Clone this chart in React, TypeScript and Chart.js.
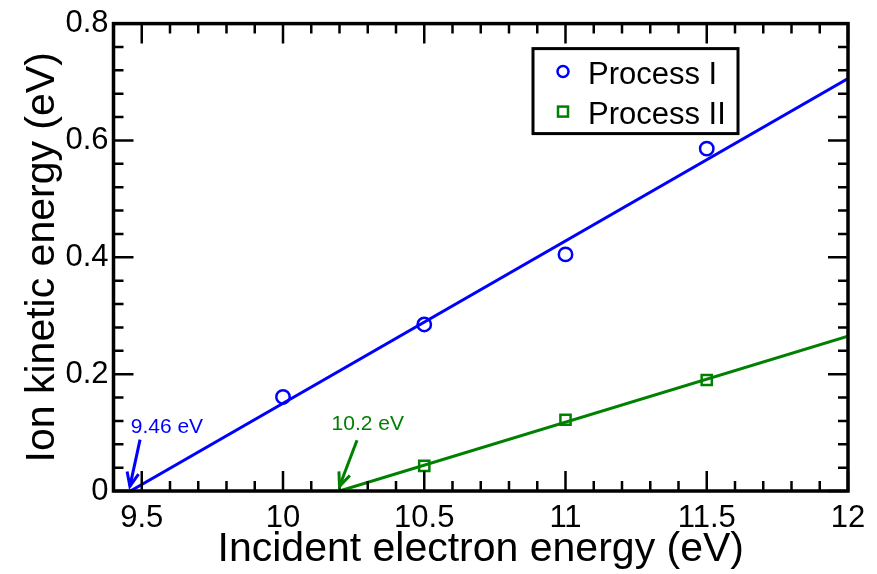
import React, { useEffect, useRef } from 'react';
import { Chart, registerables } from 'chart.js';

Chart.register(...registerables);

const FONT = '"Liberation Sans", Arial, Helvetica, sans-serif';
const BLUE = '#0000ff';
const GREEN = '#008000';

// Measured points
const processIEnergy = [10, 10.5, 11, 11.5];
const processIKE = [0.161, 0.285, 0.405, 0.586];
const processIIEnergy = [10.5, 11, 11.5];
const processIIKE = [0.043, 0.122, 0.19];

// Linear fits (threshold -> right edge)
const fitIEnergy = [9.46, 12];
const fitIKE = [0, 0.706];
const fitIIEnergy = [10.2, 12];
const fitIIKE = [0, 0.265];

// Axes
const xTickValues = [9.5, 10, 10.5, 11, 11.5, 12];
const yTickValues = [0, 0.2, 0.4, 0.6, 0.8];
const xMin = 9.4;
const xMax = 12;
const yMin = 0;
const yMax = 0.8;
const xMinorStep = 0.1;
const yMinorStep = 0.04;

// Threshold annotations (in data units)
const thresholdText = ['9.46 eV', '10.2 eV'];
const thresholdColor = [BLUE, GREEN];
const thresholdTextX = [9.461, 10.172];
const thresholdTextY = [0.1, 0.104];
const arrowTailX = [9.494, 10.262];
const arrowTailY = [0.088, 0.087];
const arrowTipX = [9.458, 10.2];
const arrowTipY = [0.008, 0.008];

const seriesLabels = ['Process I', 'Process II'];

const framePlugin = {
  id: 'framePlugin',
  afterDatasetsDraw(chart: any) {
    const { ctx, chartArea } = chart;
    const { left, right, top, bottom } = chartArea;
    const xs = chart.scales.x;
    const ys = chart.scales.y;
    ctx.save();
    ctx.strokeStyle = '#000';
    ctx.lineWidth = 2.5;
    ctx.lineCap = 'butt';
    const isMajor = (v: number, arr: number[]) => arr.some((a) => Math.abs(a - v) < 1e-6);
    // x ticks
    const nx = Math.round((xMax - xMin) / xMinorStep);
    for (let k = 0; k <= nx; k++) {
      const v = xMin + k * xMinorStep;
      const px = xs.getPixelForValue(v);
      const len = isMajor(v, xTickValues) ? 20 : 10;
      ctx.beginPath();
      ctx.moveTo(px, bottom);
      ctx.lineTo(px, bottom - len);
      ctx.moveTo(px, top);
      ctx.lineTo(px, top + len);
      ctx.stroke();
    }
    const ny = Math.round((yMax - yMin) / yMinorStep);
    for (let k = 0; k <= ny; k++) {
      const v = yMin + k * yMinorStep;
      const py = ys.getPixelForValue(v);
      const len = isMajor(v, yTickValues) ? 20 : 10;
      ctx.beginPath();
      ctx.moveTo(left, py);
      ctx.lineTo(left + len, py);
      ctx.moveTo(right, py);
      ctx.lineTo(right - len, py);
      ctx.stroke();
    }
    // frame
    ctx.lineWidth = 3.5;
    ctx.strokeRect(left, top, right - left, bottom - top);

    // annotations
    for (let i = 0; i < thresholdText.length; i++) {
      const col = thresholdColor[i];
      ctx.fillStyle = col;
      ctx.strokeStyle = col;
      ctx.font = `21px ${FONT}`;
      ctx.textAlign = 'left';
      ctx.textBaseline = 'alphabetic';
      ctx.fillText(thresholdText[i], xs.getPixelForValue(thresholdTextX[i]), ys.getPixelForValue(thresholdTextY[i]));
      const tx = xs.getPixelForValue(arrowTailX[i]);
      const ty = ys.getPixelForValue(arrowTailY[i]);
      const hx = xs.getPixelForValue(arrowTipX[i]);
      const hy = ys.getPixelForValue(arrowTipY[i]);
      ctx.lineWidth = 3;
      ctx.beginPath();
      ctx.moveTo(tx, ty);
      ctx.lineTo(hx, hy);
      ctx.stroke();
      const ang = Math.atan2(ty - hy, tx - hx);
      const L = 15;
      const spread = 0.4;
      ctx.beginPath();
      ctx.moveTo(hx + L * Math.cos(ang - spread), hy + L * Math.sin(ang - spread));
      ctx.lineTo(hx, hy);
      ctx.lineTo(hx + L * Math.cos(ang + spread), hy + L * Math.sin(ang + spread));
      ctx.stroke();
    }

    // legend
    const bx = right - 315;
    const by = top + 25;
    const bw = 205;
    const bh = 85;
    ctx.fillStyle = '#fff';
    ctx.fillRect(bx, by, bw, bh);
    ctx.strokeStyle = '#000';
    ctx.lineWidth = 3;
    ctx.strokeRect(bx, by, bw, bh);
    ctx.font = `31px ${FONT}`;
    ctx.textAlign = 'left';
    ctx.textBaseline = 'alphabetic';
    // entry 1
    ctx.strokeStyle = BLUE;
    ctx.lineWidth = 2.5;
    ctx.beginPath();
    ctx.arc(bx + 30, by + 23, 5.5, 0, Math.PI * 2);
    ctx.stroke();
    ctx.fillStyle = '#000';
    ctx.fillText(seriesLabels[0], bx + 55, by + 35);
    // entry 2
    ctx.strokeStyle = GREEN;
    ctx.strokeRect(bx + 25, by + 58, 10, 10);
    ctx.fillStyle = '#000';
    ctx.fillText(seriesLabels[1], bx + 55, by + 75);
    ctx.restore();
  },
};

export default function App() {
  const ref = useRef<HTMLCanvasElement>(null);
  useEffect(() => {
    const chart = new Chart(ref.current!, {
      type: 'scatter',
      data: {
        datasets: [
          {
            label: 'Fit I',
            data: fitIEnergy.map((x, i) => ({ x, y: fitIKE[i] })),
            showLine: true,
            borderColor: BLUE,
            borderWidth: 3,
            pointRadius: 0,
            fill: false,
          },
          {
            label: 'Fit II',
            data: fitIIEnergy.map((x, i) => ({ x, y: fitIIKE[i] })),
            showLine: true,
            borderColor: GREEN,
            borderWidth: 3,
            pointRadius: 0,
            fill: false,
          },
          {
            label: seriesLabels[0],
            data: processIEnergy.map((x, i) => ({ x, y: processIKE[i] })),
            pointStyle: 'circle',
            pointRadius: 6.7,
            pointBorderWidth: 2.5,
            borderColor: BLUE,
            backgroundColor: 'rgba(0,0,0,0)',
          },
          {
            label: seriesLabels[1],
            data: processIIEnergy.map((x, i) => ({ x, y: processIIKE[i] })),
            pointStyle: 'rect',
            pointRadius: 7.2,
            pointBorderWidth: 2.5,
            borderColor: GREEN,
            backgroundColor: 'rgba(0,0,0,0)',
          },
        ],
      } as any,
      options: {
        animation: false,
        responsive: false,
        maintainAspectRatio: false,
        layout: { padding: { left: 0, right: 29, top: 20, bottom: 0 } },
        plugins: { legend: { display: false }, tooltip: { enabled: false } },
        scales: {
          x: {
            type: 'linear',
            min: xMin,
            max: xMax,
            grid: { display: false, drawTicks: false },
            border: { display: false },
            afterBuildTicks: (s: any) => {
              s.ticks = xTickValues.map((v) => ({ value: v }));
            },
            afterFit: (s: any) => {
              s.height = 83;
            },
            ticks: {
              font: { size: 31, family: FONT },
              color: '#000',
              padding: 9,
              maxRotation: 0,
              autoSkip: false,
              callback: (v: any) => String(v),
            },
            title: {
              display: true,
              text: 'Incident electron energy (eV)',
              font: { size: 41, family: FONT },
              color: '#000',
              padding: { top: 0, bottom: 0 },
            },
          },
          y: {
            type: 'linear',
            min: yMin,
            max: yMax,
            grid: { display: false, drawTicks: false },
            border: { display: false },
            afterBuildTicks: (s: any) => {
              s.ticks = yTickValues.map((v) => ({ value: v }));
            },
            afterFit: (s: any) => {
              s.width = 113.5;
            },
            ticks: {
              font: { size: 31, family: FONT },
              color: '#000',
              padding: 5,
              autoSkip: false,
              callback: (v: any) => String(v),
            },
            title: {
              display: true,
              text: 'Ion kinetic energy (eV)',
              font: { size: 41, family: FONT },
              color: '#000',
              padding: { top: 18, bottom: 0 },
            },
          },
        },
      } as any,
      plugins: [framePlugin],
    });
    return () => chart.destroy();
  }, []);
  return (
    <div style={{ position: 'absolute', left: 0, top: 0, width: 877, height: 574, background: '#fff' }}>
      <canvas ref={ref} width={877} height={574} style={{ width: 877, height: 574, display: 'block' }} />
    </div>
  );
}
